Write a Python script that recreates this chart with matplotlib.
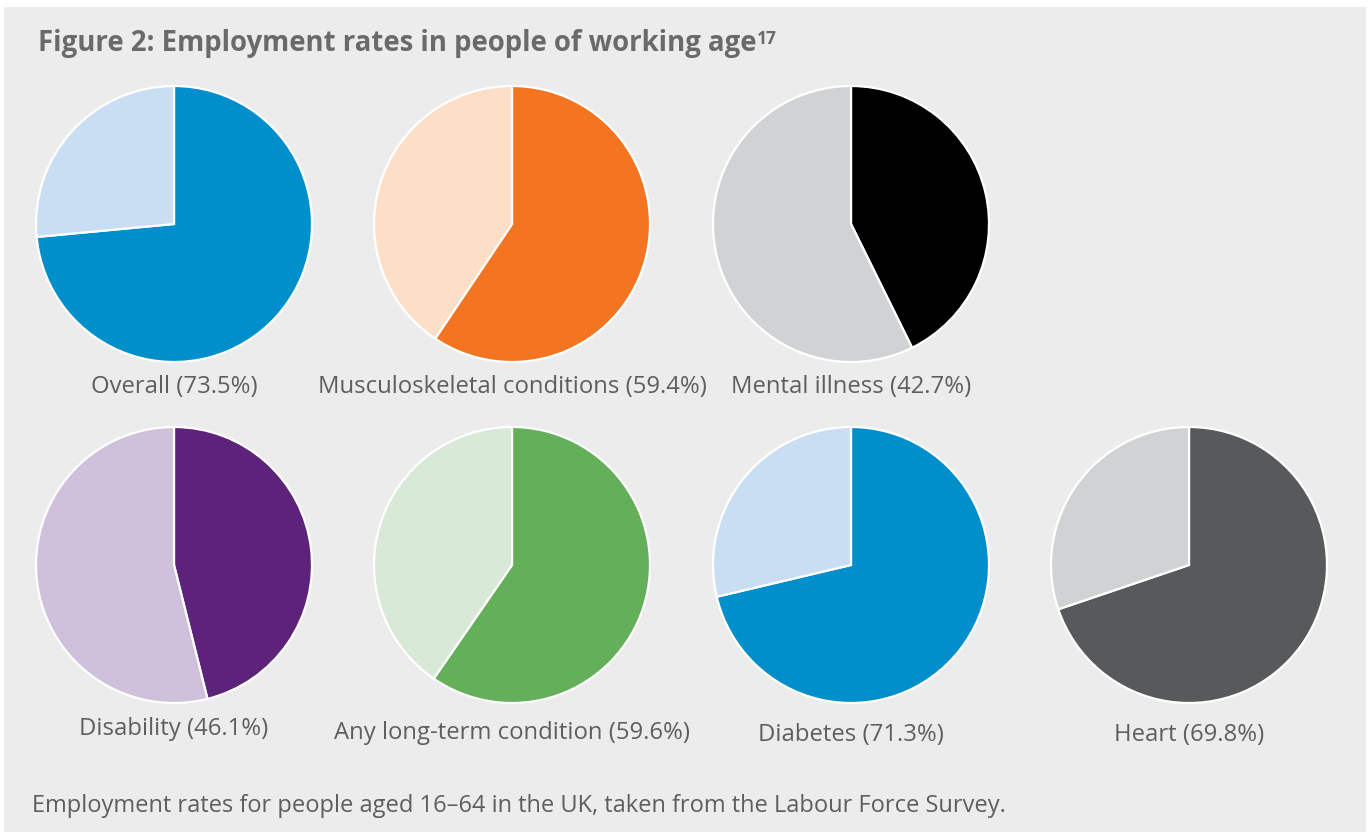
import matplotlib
matplotlib.use("Agg")
import matplotlib.pyplot as plt
from matplotlib.patches import Rectangle

# employment rate (%) for each group
groups = ["Overall", "Musculoskeletal conditions", "Mental illness",
          "Disability", "Any long-term condition", "Diabetes", "Heart"]
rates = [73.5, 59.4, 42.7, 46.1, 59.6, 71.3, 69.8]
dark_colors = ["#008FCB", "#F47521", "#000000", "#5D2279", "#63AF5A", "#008FCB", "#58595B"]
light_colors = ["#C9DEF2", "#FDDFC8", "#D1D2D4", "#CFC1DB", "#D9E9D7", "#C9DEF2", "#D1D2D4"]

W, H = 1370, 832
centers = [(174, 224), (512, 224), (851, 224),
           (174, 565), (512, 565), (851, 565), (1189, 565)]
label_y = [387, 387, 387, 729, 733, 735, 735]
radius = 138

fig = plt.figure(figsize=(W / 100, H / 100), dpi=100)
fig.patch.set_facecolor("white")
ax = fig.add_axes([0, 0, 1, 1])
ax.add_patch(Rectangle((4, 0), W - 8, H - 7, facecolor="#ECECEC", edgecolor="none", zorder=0))

for name, rate, dc, lc, (cx, cy), ly in zip(groups, rates, dark_colors, light_colors, centers, label_y):
    ax.pie([rate, 100 - rate], colors=[dc, lc], startangle=90, counterclock=False,
           center=(cx, H - cy), radius=radius, frame=True,
           wedgeprops=dict(edgecolor="white", linewidth=1.6))
    ax.text(cx, H - ly, f"{name} ({rate}%)", ha="center", va="center",
            fontsize=17.2, color="#5E5E5E", family="Open Sans")

title = ax.text(38, H - 44, "Figure 2: Employment rates in people of working age",
                ha="left", va="center", fontsize=19.8, fontweight="bold", color="#6A6A6A",
                family="Open Sans")
ax.annotate("17", xy=(1, 1), xycoords=title, xytext=(0, 0), textcoords="offset points",
            ha="left", va="top", fontsize=12.5, fontweight="bold", color="#6A6A6A",
            family="Open Sans")
ax.text(32, H - 806, "Employment rates for people aged 16\u201364 in the UK, taken from the Labour Force Survey.",
        ha="left", va="center", fontsize=17, color="#5E5E5E", family="Open Sans")

ax.set_xlim(0, W)
ax.set_ylim(0, H)
ax.set_aspect("equal")
ax.axis("off")
fig.savefig("out.png", dpi=100, facecolor=fig.get_facecolor())
